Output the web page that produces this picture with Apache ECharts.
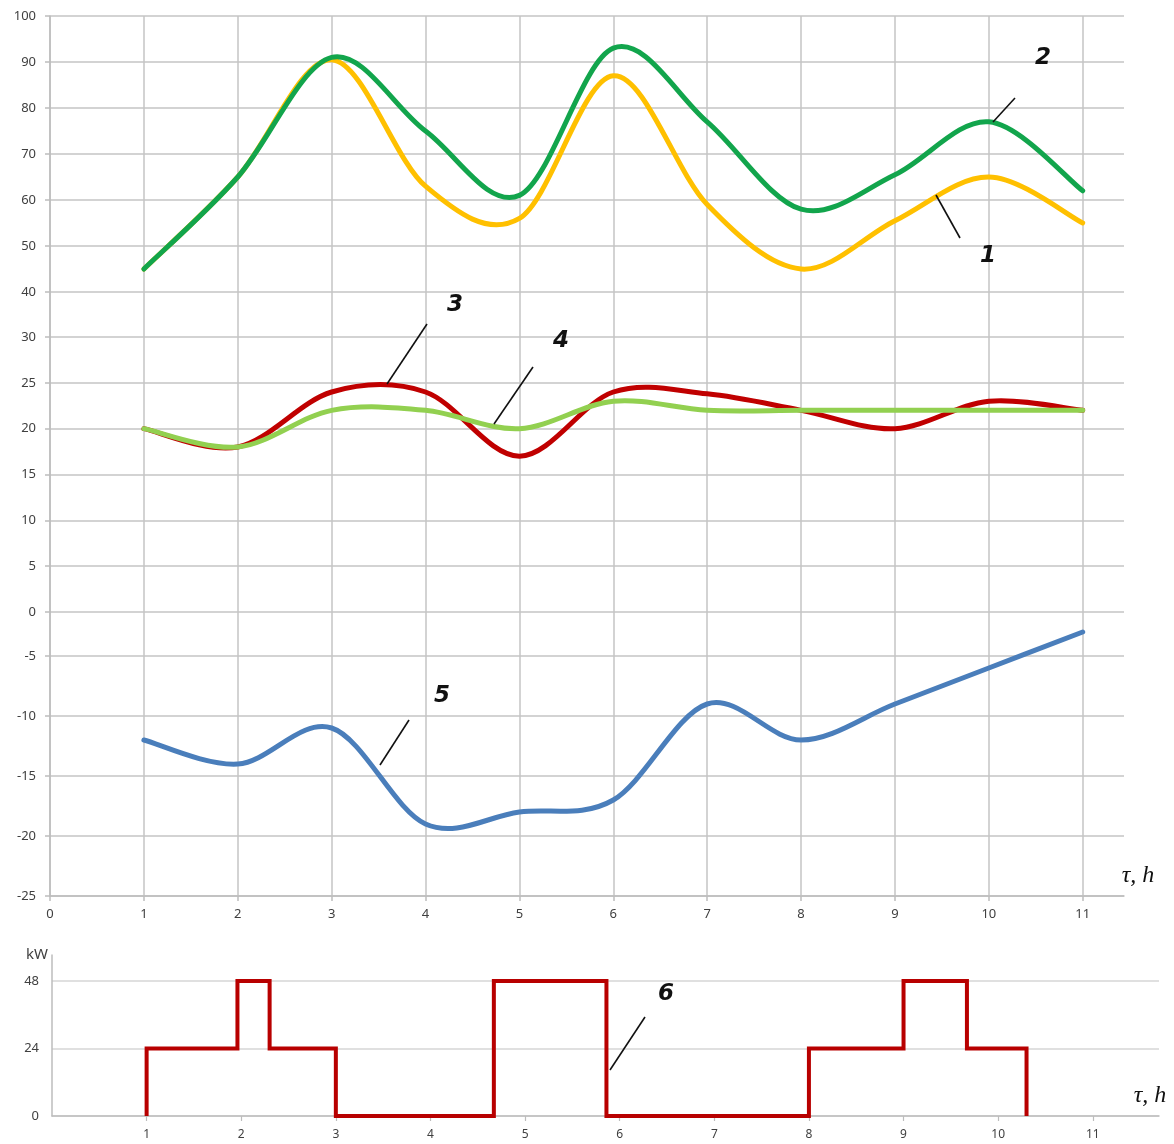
<!DOCTYPE html>
<html><head><meta charset="utf-8">
<script src="https://cdn.jsdelivr.net/npm/echarts@6/dist/echarts.min.js"></script>
<style>html,body{margin:0;padding:0;background:#fff}#c{width:1174px;height:1144px}</style>
</head><body><div id="c"></div>
<script>
// ---- data ----
const hours = [1, 2, 3, 4, 5, 6, 7, 8, 9, 10, 11];
const curve1 = [45, 65, 90.5, 63, 56, 87, 59, 45, 55.5, 65, 55];      // yellow (1)
const curve2 = [45, 65, 91, 75, 61, 93, 77, 58, 65.5, 77, 62];        // green (2)
const curve3 = [20, 18, 24, 24, 17, 24, 23.8, 22, 20, 23, 22];        // red (3)
const curve4 = [20, 18, 22, 22, 20, 23, 22, 22, 22, 22, 22];          // light green (4)
const curve5 = [-12, -14, -11, -19, -18, -17, -9, -12, -9, -6, -3];   // blue (5)
const powerX = [1, 1, 1.96, 1.96, 2.3, 2.3, 3, 3, 4.67, 4.67, 5.86, 5.86, 8, 8, 9, 9, 9.67, 9.67, 10.3, 10.3];
const powerY = [0, 24, 24, 48, 48, 24, 24, 0, 0, 48, 48, 0, 0, 24, 24, 48, 48, 24, 24, 0]; // kW (6)
const xTickValues = [0, 1, 2, 3, 4, 5, 6, 7, 8, 9, 10, 11];
const kwXTickValues = [1, 2, 3, 4, 5, 6, 7, 8, 9, 10, 11];
const topYTicks = [40, 50, 60, 70, 80, 90, 100];
const midYTicks = [0, 5, 10, 15, 20, 25, 30];
const lowYTicks = [-25, -20, -15, -10, -5];
const kwYTicks = [0, 24, 48];

const pairs = (xs, ys) => xs.map((x, i) => [x, ys[i]]);

const GRID = '#c4c4c4';
const LABEL = { color: '#404040', fontSize: 13, fontFamily: 'Noto Sans' };

function xAxisDef(gridIndex, opts) {
  return Object.assign({
    type: 'value', gridIndex, min: 0, max: 11.44,
    axisLine: { show: false },
    axisTick: { show: false, customValues: xTickValues },
    axisLabel: { show: false, customValues: xTickValues },
    splitLine: { show: true, lineStyle: { color: GRID, width: 1.5 } }
  }, opts || {});
}
function yAxisDef(gridIndex, min, max, ticks) {
  return {
    type: 'value', gridIndex, min, max,
    axisLine: { show: true, lineStyle: { color: '#bdbdbd', width: 1.5 } },
    axisTick: { show: true, length: 5, customValues: ticks, lineStyle: { color: '#bdbdbd', width: 1.5 } },
    axisLabel: Object.assign({ customValues: ticks, margin: 14 }, LABEL),
    splitLine: { show: true, lineStyle: { color: GRID, width: 1.5 } }
  };
}

// Excel-style smoothed line (Catmull-Rom through the data points, in pixel space)
const smoothLine = (name, values, color, gi) => ({
  name, type: 'custom', xAxisIndex: gi, yAxisIndex: gi, z: 3,
  data: pairs(hours, values),
  encode: { x: 0, y: 1 },
  renderItem(params, api) {
    if (params.dataIndex !== 0) return null;
    const p = hours.map((h, i) => api.coord([h, values[i]]));
    const n = p.length;
    let d = 'M' + p[0][0] + ' ' + p[0][1];
    for (let i = 0; i < n - 1; i++) {
      const p0 = p[Math.max(i - 1, 0)], p1 = p[i], p2 = p[i + 1], p3 = p[Math.min(i + 2, n - 1)];
      const c1x = p1[0] + (p2[0] - p0[0]) / 6, c1y = p1[1] + (p2[1] - p0[1]) / 6;
      const c2x = p2[0] - (p3[0] - p1[0]) / 6, c2y = p2[1] - (p3[1] - p1[1]) / 6;
      d += ' C' + c1x + ' ' + c1y + ' ' + c2x + ' ' + c2y + ' ' + p2[0] + ' ' + p2[1];
    }
    return {
      type: 'path', shape: { pathData: d },
      style: { fill: 'none', stroke: color, lineWidth: 5, lineCap: 'round', lineJoin: 'round' }
    };
  }
});

const option = {
  animation: false,
  backgroundColor: '#fff',
  grid: [
    { left: 50, top: 16, width: 1074, height: 321 },
    { left: 50, top: 337, width: 1074, height: 275 },
    { left: 50, top: 612, width: 1074, height: 284 },
    { left: 52, top: 955, width: 1107, height: 161 }
  ],
  xAxis: [
    xAxisDef(0),
    xAxisDef(1),
    xAxisDef(2, {
      axisLine: { show: true, lineStyle: { color: '#bdbdbd', width: 1.5 } },
      axisTick: { show: true, length: 5, customValues: xTickValues, lineStyle: { color: '#bdbdbd', width: 1.5 } },
      axisLabel: Object.assign({ show: true, customValues: xTickValues, margin: 12 }, LABEL)
    }),
    {
      type: 'value', gridIndex: 3, min: 0, max: 11.7,
      axisLine: { show: true, lineStyle: { color: '#bdbdbd', width: 1.5 } },
      axisTick: { show: true, length: 5, customValues: kwXTickValues, lineStyle: { color: '#bdbdbd', width: 1.2 } },
      axisLabel: Object.assign({ customValues: kwXTickValues, margin: 13 }, LABEL, { fontSize: 12 }),
      splitLine: { show: false }
    }
  ],
  yAxis: [
    yAxisDef(0, 100 - 321 / 4.6, 100, topYTicks),
    yAxisDef(1, 0, 30, midYTicks),
    yAxisDef(2, -25, -25 + 284 / 12, lowYTicks),
    {
      type: 'value', gridIndex: 3, min: 0, max: 161 / 2.8125,
      axisLine: { show: true, lineStyle: { color: '#bdbdbd', width: 1.5 } },
      axisTick: { show: false, customValues: kwYTicks },
      axisLabel: Object.assign({ customValues: kwYTicks, margin: 13 }, LABEL),
      splitLine: { show: true, lineStyle: { color: '#d6d6d6', width: 1.5 } }
    }
  ],
  series: [
    smoothLine('1', curve1, '#FFC000', 0),
    smoothLine('2', curve2, '#12A54C', 0),
    smoothLine('3', curve3, '#C00000', 1),
    smoothLine('4', curve4, '#92D050', 1),
    smoothLine('5', curve5, '#4A7EBB', 2),
    {
      name: '6', type: 'line', xAxisIndex: 3, yAxisIndex: 3,
      data: pairs(powerX, powerY), showSymbol: false,
      lineStyle: { color: '#B80000', width: 4, join: 'miter' }, z: 3
    }
  ],
  graphic: [
    ...[['2', 1043, 58], ['1', 988, 256], ['3', 455, 305], ['4', 561, 341], ['5', 442, 696], ['6', 666, 994]].map(([t, x, y]) => ({
      type: 'text', x, y, z: 10,
      style: { text: t, font: 'italic bold 23px "DejaVu Sans"', fill: '#111', textAlign: 'center', textVerticalAlign: 'middle' }
    })),
    ...[[1015, 98, 993, 122], [960, 238, 936, 195], [427, 324, 387, 384], [533, 367, 494, 424], [409, 720, 380, 765], [645, 1017, 610, 1070]].map(([x1, y1, x2, y2]) => ({
      type: 'line', z: 10, shape: { x1, y1, x2, y2 }, style: { stroke: '#111', lineWidth: 1.6 }
    })),
    { type: 'text', x: 1138, y: 876, z: 10, style: { text: 'τ, h', font: 'italic 24px "Liberation Serif"', fill: '#111', textAlign: 'center', textVerticalAlign: 'middle' } },
    { type: 'text', x: 1150, y: 1096, z: 10, style: { text: 'τ, h', font: 'italic 24px "Liberation Serif"', fill: '#111', textAlign: 'center', textVerticalAlign: 'middle' } },
    { type: 'text', x: 37, y: 955, z: 10, style: { text: 'kW', font: '15px "Noto Sans"', fill: '#404040', textAlign: 'center', textVerticalAlign: 'middle' } }
  ]
};

const chart = echarts.init(document.getElementById('c'), null, { renderer: 'canvas' });
chart.setOption(option);
</script>
</body></html>
